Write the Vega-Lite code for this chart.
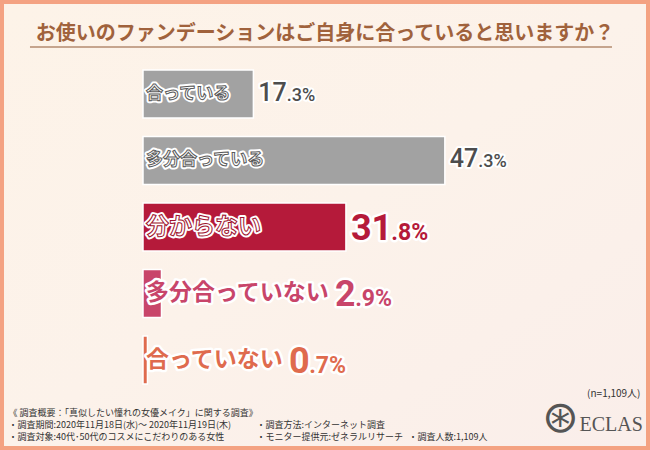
{
  "$schema": "https://vega.github.io/schema/vega-lite/v6.json",
  "width": 650,
  "height": 450,
  "autosize": {"type": "fit", "contains": "padding"},
  "padding": 4,
  "background": "#f4a282",
  "config": {
    "view": {
      "stroke": null,
      "fill": {"gradient": "linear", "x1": 0, "y1": 0, "x2": 1, "y2": 1, "stops": [{"offset": 0, "color": "#fdf3e8"}, {"offset": 0.5, "color": "#fcf2ea"}, {"offset": 1, "color": "#faeeea"}]}
    },
    "text": {"font": "Noto Sans CJK JP"}
  },
  "title": {
    "text": "お使いのファンデーションはご自身に合っていると思いますか？",
    "font": "Noto Sans CJK JP",
    "fontSize": 20,
    "fontWeight": "bold",
    "color": "#a0623c",
    "anchor": "middle",
    "offset": -60,
    "baseline": "bottom"
  },
  "data": {
    "values": [
      {"label": "合っている", "value": 17.3},
      {"label": "多分合っている", "value": 47.3},
      {"label": "分からない", "value": 31.8},
      {"label": "多分合っていない", "value": 2.9},
      {"label": "合っていない", "value": 0.7}
    ]
  },
  "transform": [
    {"calculate": "datum.label === '合っている' || datum.label === '多分合っている' ? 'gray' : 'color'", "as": "grp"},
    {"calculate": "format(floor(datum.value), 'd')", "as": "intStr"},
    {"calculate": "'.' + format(round(datum.value * 10) % 10, 'd') + '%'", "as": "decStr"},
    {"calculate": "datum.value > 10 ? datum.value + 0.78 : (8 + 23 * length(datum.label)) / 6.382", "as": "numX"},
    {"calculate": "datum.numX + length(datum.intStr) * (datum.grp === 'gray' ? 14.2 : 20.2) / 6.382", "as": "decX"}
  ],
  "encoding": {
    "y": {"field": "label", "type": "nominal", "sort": null, "scale": {"domain": ["合っている", "多分合っている", "分からない", "多分合っていない", "合っていない"], "paddingInner": 0.278, "paddingOuter": 0.9624, "align": 0.5156}, "axis": null}
  },
  "layer": [
    {
      "mark": {"type": "bar", "stroke": "white", "strokeWidth": 1.5},
      "encoding": {
        "x": {"field": "value", "type": "quantitative", "scale": {"domain": [-21.78, 78.82], "nice": false, "zero": false},
          "axis": {"orient": "bottom", "labels": false, "ticks": false, "domain": false, "grid": false,
            "title": ["《 調査概要：「真似したい憧れの女優メイク」に関する調査》", "・調査期間:2020年11月18日(水)～ 2020年11月19日(木)", "・調査対象:40代･50代のコスメにこだわりのある女性"],
            "titleX": 4, "titleY": -30.5, "titleAlign": "left", "titleBaseline": "alphabetic", "titleAngle": 0,
            "titleFont": "Noto Sans CJK JP", "titleFontSize": 9, "titleFontWeight": "normal", "titleColor": "#333333", "titleLineHeight": 12}},
        "y": {"field": "label", "type": "nominal", "sort": null, "scale": {"domain": ["合っている", "多分合っている", "分からない", "多分合っていない", "合っていない"], "paddingInner": 0.278, "paddingOuter": 0.9624, "align": 0.5156},
          "axis": {"orient": "left", "labels": false, "ticks": false, "domain": false, "grid": false,
            "title": "・調査人数:1,109人", "titleX": 404, "titleY": 435.5, "titleAlign": "left", "titleBaseline": "alphabetic", "titleAngle": 0,
            "titleFont": "Noto Sans CJK JP", "titleFontSize": 9, "titleFontWeight": "normal", "titleColor": "#333333"}},
        "color": {"field": "label", "type": "nominal", "scale": {"domain": ["合っている", "多分合っている", "分からない", "多分合っていない", "合っていない"], "range": ["#a2a2a2", "#a2a2a2", "#b51a3a", "#c8456a", "#df6b4e"]}, "legend": null}
      }
    },
    {
      "transform": [{"filter": "datum.label === '合っている'"}],
      "mark": {"type": "rule", "color": "#c6a58e", "strokeWidth": 2, "yOffset": -47},
      "encoding": {
        "x": {"datum": -17.71, "type": "quantitative", "scale": {"domain": [-21.78, 78.82], "nice": false, "zero": false}, "axis": null},
        "x2": {"datum": 73.49}
      }
    },
    {
      "mark": {"type": "text", "align": "left", "baseline": "middle", "dx": 3, "fontWeight": "bold", "fill": "white", "stroke": "white", "strokeWidth": 5, "strokeJoin": "round"},
      "encoding": {
        "x": {"datum": 0, "type": "quantitative", "scale": {"domain": [-21.78, 78.82], "nice": false, "zero": false}, "axis": null},
        "text": {"field": "label"},
        "size": {"field": "grp", "type": "nominal", "scale": {"domain": ["gray", "color"], "range": [17, 23]}, "legend": null}
      }
    },
    {
      "transform": [{"filter": "datum.value > 10"}],
      "mark": {"type": "text", "align": "left", "baseline": "middle", "dx": 3, "fontWeight": "bold", "fill": "white", "strokeWidth": 1},
      "encoding": {
        "x": {"datum": 0, "type": "quantitative", "scale": {"domain": [-21.78, 78.82], "nice": false, "zero": false}, "axis": null},
        "text": {"field": "label"},
        "size": {"field": "grp", "type": "nominal", "scale": {"domain": ["gray", "color"], "range": [17, 23]}, "legend": null},
        "stroke": {"field": "label", "type": "nominal", "scale": {"domain": ["合っている", "多分合っている", "分からない", "多分合っていない", "合っていない"], "range": ["#5a5a5a", "#5a5a5a", "#9e1430", "#c8456a", "#df6b4e"]}, "legend": null}
      }
    },
    {
      "transform": [{"filter": "datum.value <= 10"}],
      "mark": {"type": "text", "align": "left", "baseline": "middle", "dx": 3, "fontWeight": "bold", "fontSize": 23},
      "encoding": {
        "x": {"datum": 0, "type": "quantitative", "scale": {"domain": [-21.78, 78.82], "nice": false, "zero": false}, "axis": null},
        "text": {"field": "label"},
        "color": {"field": "label", "type": "nominal", "scale": {"domain": ["合っている", "多分合っている", "分からない", "多分合っていない", "合っていない"], "range": ["#a2a2a2", "#a2a2a2", "#b51a3a", "#c8456a", "#df6b4e"]}, "legend": null}
      }
    },
    {
      "transform": [{"filter": "datum.grp === 'gray'"}],
      "mark": {"type": "text", "align": "left", "baseline": "alphabetic", "dy": 7, "font": "Roboto", "fontWeight": 500, "fontSize": 25, "fill": "white", "stroke": "white", "strokeWidth": 4, "strokeJoin": "round"},
      "encoding": {
        "x": {"field": "numX", "type": "quantitative", "scale": {"domain": [-21.78, 78.82], "nice": false, "zero": false},
          "axis": {"orient": "top", "labels": false, "ticks": false, "domain": false, "grid": false,
            "title": ["・調査方法:インターネット調査", "・モニター提供元:ゼネラルリサーチ"],
            "titleX": 252, "titleY": 423.5, "titleAlign": "left", "titleBaseline": "alphabetic", "titleAngle": 0,
            "titleFont": "Noto Sans CJK JP", "titleFontSize": 9, "titleFontWeight": "normal", "titleColor": "#333333", "titleLineHeight": 12}},
        "y": {"field": "label", "type": "nominal", "sort": null, "scale": {"domain": ["合っている", "多分合っている", "分からない", "多分合っていない", "合っていない"], "paddingInner": 0.278, "paddingOuter": 0.9624, "align": 0.5156},
          "axis": {"orient": "right", "labels": false, "ticks": false, "domain": false, "grid": false,
            "title": "(n=1,109人)", "titleX": -6, "titleY": 389, "titleAlign": "right", "titleBaseline": "middle", "titleAngle": 0,
            "titleFont": "Noto Sans CJK JP", "titleFontSize": 10, "titleFontWeight": "normal", "titleColor": "#333333"}},
        "text": {"field": "intStr"}
      }
    },
    {
      "transform": [{"filter": "datum.grp === 'gray'"}],
      "mark": {"type": "text", "align": "left", "baseline": "alphabetic", "dy": 7, "font": "Roboto", "fontWeight": 500, "fontSize": 25, "fill": "#4d4d4d"},
      "encoding": {
        "x": {"field": "numX", "type": "quantitative", "scale": {"domain": [-21.78, 78.82], "nice": false, "zero": false}, "axis": null},
        "text": {"field": "intStr"}
      }
    },
    {
      "transform": [{"filter": "datum.grp === 'gray'"}],
      "mark": {"type": "text", "align": "left", "baseline": "alphabetic", "dy": 7, "font": "Roboto", "fontWeight": 500, "fontSize": 18, "fill": "white", "stroke": "white", "strokeWidth": 4, "strokeJoin": "round"},
      "encoding": {
        "x": {"field": "decX", "type": "quantitative", "scale": {"domain": [-21.78, 78.82], "nice": false, "zero": false},
          "axis": {"orient": "bottom", "labels": false, "ticks": false, "domain": false, "grid": false,
            "title": "ECLAS", "titleX": 575, "titleY": -16, "titleAlign": "left", "titleBaseline": "alphabetic", "titleAngle": 0,
            "titleFont": "Liberation Serif", "titleFontSize": 20, "titleFontWeight": "normal", "titleColor": "#555555"}},
        "y": {"field": "label", "type": "nominal", "sort": null, "scale": {"domain": ["合っている", "多分合っている", "分からない", "多分合っていない", "合っていない"], "paddingInner": 0.278, "paddingOuter": 0.9624, "align": 0.5156},
          "axis": {"orient": "left", "labels": false, "ticks": false, "domain": false, "grid": false,
            "title": "⊛", "titleX": 556, "titleY": 414, "titleAlign": "center", "titleBaseline": "middle", "titleAngle": 0,
            "titleFont": "DejaVu Sans", "titleFontSize": 44, "titleFontWeight": "normal", "titleColor": "#555555"}},
        "text": {"field": "decStr"}
      }
    },
    {
      "transform": [{"filter": "datum.grp === 'gray'"}],
      "mark": {"type": "text", "align": "left", "baseline": "alphabetic", "dy": 7, "font": "Roboto", "fontWeight": 500, "fontSize": 18, "fill": "#4d4d4d"},
      "encoding": {
        "x": {"field": "decX", "type": "quantitative", "scale": {"domain": [-21.78, 78.82], "nice": false, "zero": false}, "axis": null},
        "text": {"field": "decStr"}
      }
    },
    {
      "transform": [{"filter": "datum.grp === 'color'"}],
      "mark": {"type": "text", "align": "left", "baseline": "alphabetic", "dy": 13, "font": "Roboto", "fontWeight": "bold", "fontSize": 36, "fill": "white", "stroke": "white", "strokeWidth": 5, "strokeJoin": "round"},
      "encoding": {
        "x": {"field": "numX", "type": "quantitative", "scale": {"domain": [-21.78, 78.82], "nice": false, "zero": false}, "axis": null},
        "text": {"field": "intStr"}
      }
    },
    {
      "transform": [{"filter": "datum.grp === 'color'"}],
      "mark": {"type": "text", "align": "left", "baseline": "alphabetic", "dy": 13, "font": "Roboto", "fontWeight": "bold", "fontSize": 36},
      "encoding": {
        "x": {"field": "numX", "type": "quantitative", "scale": {"domain": [-21.78, 78.82], "nice": false, "zero": false}, "axis": null},
        "text": {"field": "intStr"},
        "color": {"field": "label", "type": "nominal", "scale": {"domain": ["合っている", "多分合っている", "分からない", "多分合っていない", "合っていない"], "range": ["#a2a2a2", "#a2a2a2", "#b51a3a", "#c8456a", "#df6b4e"]}, "legend": null}
      }
    },
    {
      "transform": [{"filter": "datum.grp === 'color'"}],
      "mark": {"type": "text", "align": "left", "baseline": "alphabetic", "dy": 13, "font": "Roboto", "fontWeight": "bold", "fontSize": 23, "fill": "white", "stroke": "white", "strokeWidth": 5, "strokeJoin": "round"},
      "encoding": {
        "x": {"field": "decX", "type": "quantitative", "scale": {"domain": [-21.78, 78.82], "nice": false, "zero": false}, "axis": null},
        "text": {"field": "decStr"}
      }
    },
    {
      "transform": [{"filter": "datum.grp === 'color'"}],
      "mark": {"type": "text", "align": "left", "baseline": "alphabetic", "dy": 13, "font": "Roboto", "fontWeight": "bold", "fontSize": 23},
      "encoding": {
        "x": {"field": "decX", "type": "quantitative", "scale": {"domain": [-21.78, 78.82], "nice": false, "zero": false}, "axis": null},
        "text": {"field": "decStr"},
        "color": {"field": "label", "type": "nominal", "scale": {"domain": ["合っている", "多分合っている", "分からない", "多分合っていない", "合っていない"], "range": ["#a2a2a2", "#a2a2a2", "#b51a3a", "#c8456a", "#df6b4e"]}, "legend": null}
      }
    }
  ],
  "resolve": {"axis": {"x": "independent", "y": "independent"}}
}
